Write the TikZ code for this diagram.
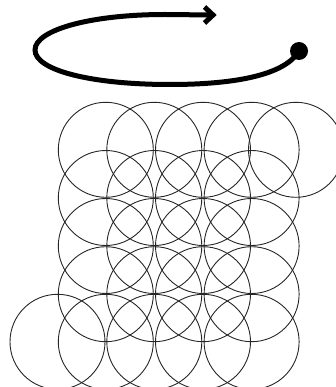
\documentclass[tikz,border=0pt]{standalone}
\usetikzlibrary{arrows.meta}
\tikzset{
  ring/.style={draw=black!85, line width=0.9pt},
  loopline/.style={line width=5pt, line cap=round},
  barb/.style={line width=5pt, line join=miter, line cap=butt},
}
\begin{document}
\begin{tikzpicture}[x=1pt,y=-1pt]
\useasboundingbox (0,0) rectangle (336,387);
\begin{scope}
\clip (0,0) rectangle (336,387);
% row 1
\foreach \x in {105.8,154.3,203,251.6,296} \draw[ring] (\x,149.8) circle (47.5);
% rows 2-4
\foreach \y in {198,246,294.2} {
  \foreach \x in {105.8,154.3,203,251.6} \draw[ring] (\x,\y) circle (47.5);
}
% row 5
\foreach \x in {57.5,105.8,154.3,203,251.6} \draw[ring] (\x,341.8) circle (47.5);
\end{scope}
\coordinate (start) at (299,51);
\coordinate (tip) at (213,15);
\draw[loopline] (start) .. controls (285,75) and (235,84.5) .. (170,84.5)
  .. controls (90,84.5) and (35,70) .. (35,50)
  .. controls (35,30) and (90,14.5) .. (165,14.5) -- (tip);
\draw[barb] ([shift={(-8.5,-8)}]tip) -- (tip) -- ([shift={(-8.5,8)}]tip);
\fill (start) circle (9);
\end{tikzpicture}
\end{document}
